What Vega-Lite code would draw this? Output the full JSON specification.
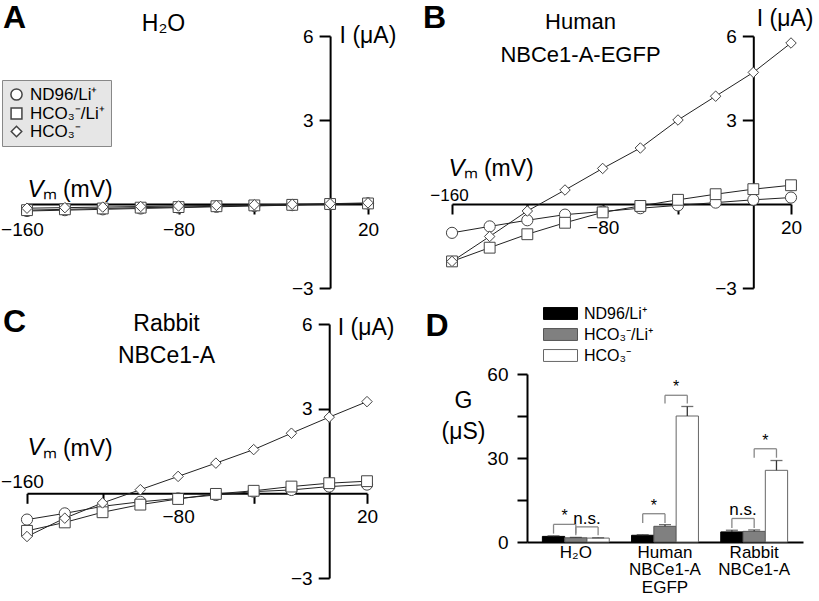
{
  "$schema": "https://vega.github.io/schema/vega-lite/v6.json",
  "padding": {"left": 0, "top": 1, "right": 0, "bottom": 0},
  "bounds": "flush",
  "columns": 2,
  "spacing": {"row": 36, "column": 84},
  "resolve": {"scale": {"shape": "independent", "size": "independent", "fill": "independent", "stroke": "independent"}, "legend": {"shape": "independent", "size": "independent", "fill": "independent", "stroke": "independent"}},
  "datasets": {
    "iv": [
      {"panel":"A","series":"ND96/Li⁺","V":-160,"I":-0.25},{"panel":"A","series":"ND96/Li⁺","V":-140,"I":-0.22},{"panel":"A","series":"ND96/Li⁺","V":-120,"I":-0.19},{"panel":"A","series":"ND96/Li⁺","V":-100,"I":-0.16},{"panel":"A","series":"ND96/Li⁺","V":-80,"I":-0.13},{"panel":"A","series":"ND96/Li⁺","V":-60,"I":-0.10},{"panel":"A","series":"ND96/Li⁺","V":-40,"I":-0.07},{"panel":"A","series":"ND96/Li⁺","V":-20,"I":-0.04},{"panel":"A","series":"ND96/Li⁺","V":0,"I":-0.01},{"panel":"A","series":"ND96/Li⁺","V":20,"I":0.02},
      {"panel":"A","series":"HCO₃⁻/Li⁺","V":-160,"I":-0.22},{"panel":"A","series":"HCO₃⁻/Li⁺","V":-140,"I":-0.19},{"panel":"A","series":"HCO₃⁻/Li⁺","V":-120,"I":-0.16},{"panel":"A","series":"HCO₃⁻/Li⁺","V":-100,"I":-0.13},{"panel":"A","series":"HCO₃⁻/Li⁺","V":-80,"I":-0.11},{"panel":"A","series":"HCO₃⁻/Li⁺","V":-60,"I":-0.08},{"panel":"A","series":"HCO₃⁻/Li⁺","V":-40,"I":-0.05},{"panel":"A","series":"HCO₃⁻/Li⁺","V":-20,"I":-0.03},{"panel":"A","series":"HCO₃⁻/Li⁺","V":0,"I":0.0},{"panel":"A","series":"HCO₃⁻/Li⁺","V":20,"I":0.02},
      {"panel":"A","series":"HCO₃⁻","V":-160,"I":-0.15},{"panel":"A","series":"HCO₃⁻","V":-140,"I":-0.13},{"panel":"A","series":"HCO₃⁻","V":-120,"I":-0.11},{"panel":"A","series":"HCO₃⁻","V":-100,"I":-0.09},{"panel":"A","series":"HCO₃⁻","V":-80,"I":-0.07},{"panel":"A","series":"HCO₃⁻","V":-60,"I":-0.05},{"panel":"A","series":"HCO₃⁻","V":-40,"I":-0.03},{"panel":"A","series":"HCO₃⁻","V":-20,"I":-0.01},{"panel":"A","series":"HCO₃⁻","V":0,"I":0.01},{"panel":"A","series":"HCO₃⁻","V":20,"I":0.04},
      {"panel":"B","series":"ND96/Li⁺","V":-160,"I":-1.03},{"panel":"B","series":"ND96/Li⁺","V":-140,"I":-0.80},{"panel":"B","series":"ND96/Li⁺","V":-120,"I":-0.58},{"panel":"B","series":"ND96/Li⁺","V":-100,"I":-0.38},{"panel":"B","series":"ND96/Li⁺","V":-80,"I":-0.27},{"panel":"B","series":"ND96/Li⁺","V":-60,"I":-0.15},{"panel":"B","series":"ND96/Li⁺","V":-40,"I":-0.05},{"panel":"B","series":"ND96/Li⁺","V":-20,"I":0.05},{"panel":"B","series":"ND96/Li⁺","V":0,"I":0.15},{"panel":"B","series":"ND96/Li⁺","V":20,"I":0.23},
      {"panel":"B","series":"HCO₃⁻/Li⁺","V":-160,"I":-2.05},{"panel":"B","series":"HCO₃⁻/Li⁺","V":-140,"I":-1.56},{"panel":"B","series":"HCO₃⁻/Li⁺","V":-120,"I":-1.08},{"panel":"B","series":"HCO₃⁻/Li⁺","V":-100,"I":-0.67},{"panel":"B","series":"HCO₃⁻/Li⁺","V":-80,"I":-0.30},{"panel":"B","series":"HCO₃⁻/Li⁺","V":-60,"I":-0.07},{"panel":"B","series":"HCO₃⁻/Li⁺","V":-40,"I":0.15},{"panel":"B","series":"HCO₃⁻/Li⁺","V":-20,"I":0.35},{"panel":"B","series":"HCO₃⁻/Li⁺","V":0,"I":0.53},{"panel":"B","series":"HCO₃⁻/Li⁺","V":20,"I":0.67},
      {"panel":"B","series":"HCO₃⁻","V":-160,"I":-2.05},{"panel":"B","series":"HCO₃⁻","V":-140,"I":-1.16},{"panel":"B","series":"HCO₃⁻","V":-120,"I":-0.25},{"panel":"B","series":"HCO₃⁻","V":-100,"I":0.50},{"panel":"B","series":"HCO₃⁻","V":-80,"I":1.27},{"panel":"B","series":"HCO₃⁻","V":-60,"I":2.00},{"panel":"B","series":"HCO₃⁻","V":-40,"I":3.00},{"panel":"B","series":"HCO₃⁻","V":-20,"I":3.85},{"panel":"B","series":"HCO₃⁻","V":0,"I":4.70},{"panel":"B","series":"HCO₃⁻","V":20,"I":5.75},
      {"panel":"C","series":"ND96/Li⁺","V":-160,"I":-0.93},{"panel":"C","series":"ND96/Li⁺","V":-140,"I":-0.71},{"panel":"C","series":"ND96/Li⁺","V":-120,"I":-0.46},{"panel":"C","series":"ND96/Li⁺","V":-100,"I":-0.30},{"panel":"C","series":"ND96/Li⁺","V":-80,"I":-0.18},{"panel":"C","series":"ND96/Li⁺","V":-60,"I":-0.06},{"panel":"C","series":"ND96/Li⁺","V":-40,"I":0.06},{"panel":"C","series":"ND96/Li⁺","V":-20,"I":0.12},{"panel":"C","series":"ND96/Li⁺","V":0,"I":0.24},{"panel":"C","series":"ND96/Li⁺","V":20,"I":0.31},
      {"panel":"C","series":"HCO₃⁻/Li⁺","V":-160,"I":-1.33},{"panel":"C","series":"HCO₃⁻/Li⁺","V":-140,"I":-1.03},{"panel":"C","series":"HCO₃⁻/Li⁺","V":-120,"I":-0.67},{"panel":"C","series":"HCO₃⁻/Li⁺","V":-100,"I":-0.40},{"panel":"C","series":"HCO₃⁻/Li⁺","V":-80,"I":-0.20},{"panel":"C","series":"HCO₃⁻/Li⁺","V":-60,"I":-0.02},{"panel":"C","series":"HCO₃⁻/Li⁺","V":-40,"I":0.09},{"panel":"C","series":"HCO₃⁻/Li⁺","V":-20,"I":0.24},{"panel":"C","series":"HCO₃⁻/Li⁺","V":0,"I":0.36},{"panel":"C","series":"HCO₃⁻/Li⁺","V":20,"I":0.43},
      {"panel":"C","series":"HCO₃⁻","V":-160,"I":-1.53},{"panel":"C","series":"HCO₃⁻","V":-140,"I":-0.88},{"panel":"C","series":"HCO₃⁻","V":-120,"I":-0.34},{"panel":"C","series":"HCO₃⁻","V":-100,"I":0.13},{"panel":"C","series":"HCO₃⁻","V":-80,"I":0.60},{"panel":"C","series":"HCO₃⁻","V":-60,"I":1.07},{"panel":"C","series":"HCO₃⁻","V":-40,"I":1.55},{"panel":"C","series":"HCO₃⁻","V":-20,"I":2.13},{"panel":"C","series":"HCO₃⁻","V":0,"I":2.70},{"panel":"C","series":"HCO₃⁻","V":20,"I":3.25}
    ],
    "bars": [
      {"slot":"H2O-1","cond":"ND96/Li⁺","G":2.0,"hi":2.2},
      {"slot":"H2O-2","cond":"HCO₃⁻/Li⁺","G":1.5,"hi":1.65},
      {"slot":"H2O-3","cond":"HCO₃⁻","G":1.4,"hi":1.5},
      {"slot":"Human-1","cond":"ND96/Li⁺","G":2.4,"hi":2.6},
      {"slot":"Human-2","cond":"HCO₃⁻/Li⁺","G":5.6,"hi":6.2},
      {"slot":"Human-3","cond":"HCO₃⁻","G":45.0,"hi":48.4},
      {"slot":"Rabbit-1","cond":"ND96/Li⁺","G":3.6,"hi":4.2},
      {"slot":"Rabbit-2","cond":"HCO₃⁻/Li⁺","G":3.8,"hi":4.3},
      {"slot":"Rabbit-3","cond":"HCO₃⁻","G":25.6,"hi":29.1}
    ],
    "brackets": [
      {"from":"H2O-1","to":"H2O-2","top":6.3,"bottom":3.0,"label":"*"},
      {"from":"H2O-2","to":"H2O-3","top":5.4,"bottom":2.4,"label":"n.s."},
      {"from":"Human-1","to":"Human-2","top":10.1,"bottom":6.8,"label":"*"},
      {"from":"Human-2","to":"Human-3","top":52.4,"bottom":49.5,"label":"*"},
      {"from":"Rabbit-1","to":"Rabbit-2","top":8.4,"bottom":5.0,"label":"n.s."},
      {"from":"Rabbit-2","to":"Rabbit-3","top":33.3,"bottom":30.1,"label":"*"}
    ]
  },
  "concat": [
    {
      "width": 341, "height": 252,
      "data": {"name": "iv"},
      "layer": [
        {
          "transform": [{"filter": "datum.panel == 'A'"}],
          "mark": {"type": "line", "color": "#222", "strokeWidth": 1},
          "encoding": {
            "x": {"field": "V", "type": "quantitative", "scale": {"domain": [-160, 20], "nice": false, "zero": false},
              "axis": {"orient": "bottom", "offset": -84, "values": [-160, -120, -80, -40, 20], "labelFlush": false,
                "labelExpr": "datum.value == -160 ? '−160' : datum.value == -80 ? '−80' : datum.value == 20 ? '20' : ''",
                "labelOffset": {"condition": {"test": "datum.value == -160", "value": -5}, "value": 0},
                "tickSize": 10, "labelPadding": 6,
                "title": "V", "titleFontStyle": "italic", "titleAngle": 0, "titleAlign": "left", "titleBaseline": "alphabetic", "titleX": 0, "titleY": -8, "titleFontSize": 24}},
            "y": {"field": "I", "type": "quantitative", "scale": {"domain": [-3, 6], "nice": false, "zero": false},
              "axis": {"orient": "left", "offset": -303.1, "values": [-3, 3, 6], "labelFlush": false,
                "labelExpr": "datum.value < 0 ? '−' + abs(datum.value) : datum.label",
                "tickSize": 11, "labelPadding": 6,
                "title": "I (μA)", "titleAngle": 0, "titleAlign": "left", "titleBaseline": "alphabetic", "titleX": 9, "titleY": 6, "titleFontSize": 23}},
            "detail": {"field": "series"}
          }
        },
        {
          "transform": [{"filter": "datum.panel == 'A'"}],
          "mark": {"type": "point", "filled": true, "fill": "white", "stroke": "#444", "strokeWidth": 1, "opacity": 1},
          "encoding": {
            "x": {"field": "V", "type": "quantitative",
              "axis": {"orient": "top", "domain": false, "ticks": false, "labels": false, "title": "ₘ (mV)", "titleAngle": 0, "titleAlign": "left", "titleBaseline": "alphabetic", "titleX": 15, "titleY": 160, "titleFontSize": 23}},
            "y": {"field": "I", "type": "quantitative",
              "axis": {"orient": "right", "domain": false, "ticks": false, "labels": false, "title": "H₂O", "titleAngle": 0, "titleAlign": "center", "titleBaseline": "alphabetic", "titleX": -205, "titleY": -6, "titleFontSize": 23}},
            "shape": {"field": "series", "type": "nominal",
              "scale": {"domain": ["ND96/Li⁺", "HCO₃⁻/Li⁺", "HCO₃⁻"], "range": ["circle", "square", "diamond"]},
              "legend": {"orient": "none", "legendX": -25, "legendY": 44, "title": null, "fillColor": "#e6e6e6", "strokeColor": "#888", "padding": 6, "labelFontSize": 17, "labelOffset": 5, "rowPadding": 0,
                "encode": {"symbols": {"update": {"fill": {"value": "white"}, "stroke": {"value": "#444"}, "strokeWidth": {"value": 1}, "opacity": {"value": 1}}}}}},
            "size": {"field": "series", "type": "ordinal",
              "scale": {"domain": ["ND96/Li⁺", "HCO₃⁻/Li⁺", "HCO₃⁻"], "range": [125, 110, 190]},
              "legend": {"orient": "none", "legendX": -25, "legendY": 44, "title": null, "fillColor": "#e6e6e6", "strokeColor": "#888", "padding": 6, "labelFontSize": 17, "labelOffset": 5, "rowPadding": 0,
                "encode": {"symbols": {"update": {"fill": {"value": "white"}, "stroke": {"value": "#444"}, "strokeWidth": {"value": 1}, "opacity": {"value": 1}}}}}}
          }
        },
        {
          "data": {"values": [{"letter": "A"}]},
          "mark": {"type": "text", "align": "left", "baseline": "alphabetic", "fontSize": 32, "fontWeight": "bold"},
          "encoding": {
            "x": {"datum": -172.7, "type": "quantitative", "scale": {"domain": [-160, 20], "nice": false, "zero": false}, "axis": null},
            "y": {"datum": 6.29, "type": "quantitative", "scale": {"domain": [-3, 6], "nice": false, "zero": false}, "axis": null},
            "text": {"field": "letter"}
          }
        }
      ],
      "resolve": {"axis": {"x": "independent", "y": "independent"}}
    },
    {
      "width": 339, "height": 252,
      "data": {"name": "iv"},
      "layer": [
        {
          "transform": [{"filter": "datum.panel == 'B'"}],
          "mark": {"type": "line", "color": "#222", "strokeWidth": 1},
          "encoding": {
            "x": {"field": "V", "type": "quantitative", "scale": {"domain": [-160, 20], "nice": false, "zero": false},
              "axis": {"orient": "bottom", "offset": -84, "values": [-160, -120, -80, -40, 20], "labelFlush": false,
                "labelExpr": "datum.value == -160 ? '−160' : datum.value == -80 ? '−80' : datum.value == 20 ? '20' : ''",
                "labelOffset": {"condition": {"test": "datum.value == -160", "value": -3}, "value": 0},
                "labelPadding": {"condition": {"test": "datum.value == -160", "value": -27}, "value": 4},
                "labelFontSize": {"condition": {"test": "datum.value == -160", "value": 17}, "value": 19},
                "tickSize": 10,
                "title": "V", "titleFontStyle": "italic", "titleAngle": 0, "titleAlign": "left", "titleBaseline": "alphabetic", "titleX": -4, "titleY": -29, "titleFontSize": 24}},
            "y": {"field": "I", "type": "quantitative", "scale": {"domain": [-3, 6], "nice": false, "zero": false},
              "axis": {"orient": "left", "offset": -301.3, "values": [-3, 3, 6], "labelFlush": false,
                "labelExpr": "datum.value < 0 ? '−' + abs(datum.value) : datum.label",
                "tickSize": 11, "labelPadding": 6,
                "title": "I (μA)", "titleAngle": 0, "titleAlign": "left", "titleBaseline": "alphabetic", "titleX": 3, "titleY": -11, "titleFontSize": 23}},
            "detail": {"field": "series"}
          }
        },
        {
          "transform": [{"filter": "datum.panel == 'B'"}],
          "mark": {"type": "point", "filled": true, "fill": "white", "stroke": "#444", "strokeWidth": 1, "opacity": 1},
          "encoding": {
            "x": {"field": "V", "type": "quantitative",
              "axis": {"orient": "top", "domain": false, "ticks": false, "labels": false, "title": "ₘ (mV)", "titleAngle": 0, "titleAlign": "left", "titleBaseline": "alphabetic", "titleX": 11, "titleY": 139, "titleFontSize": 23}},
            "y": {"field": "I", "type": "quantitative",
              "axis": {"orient": "right", "domain": false, "ticks": false, "labels": false, "title": ["Human", "NBCe1-A-EGFP"], "titleAngle": 0, "titleAlign": "center", "titleBaseline": "alphabetic", "titleX": -211, "titleY": -8, "titleFontSize": 22, "titleLineHeight": 33}},
            "shape": {"field": "series", "type": "nominal",
              "scale": {"domain": ["ND96/Li⁺", "HCO₃⁻/Li⁺", "HCO₃⁻"], "range": ["circle", "square", "diamond"]}, "legend": null},
            "size": {"field": "series", "type": "ordinal",
              "scale": {"domain": ["ND96/Li⁺", "HCO₃⁻/Li⁺", "HCO₃⁻"], "range": [125, 110, 190]}, "legend": null}
          }
        },
        {
          "data": {"values": [{"letter": "B"}]},
          "mark": {"type": "text", "align": "left", "baseline": "alphabetic", "fontSize": 32, "fontWeight": "bold"},
          "encoding": {
            "x": {"datum": -175.4, "type": "quantitative", "scale": {"domain": [-160, 20], "nice": false, "zero": false}, "axis": null},
            "y": {"datum": 6.29, "type": "quantitative", "scale": {"domain": [-3, 6], "nice": false, "zero": false}, "axis": null},
            "text": {"field": "letter"}
          }
        }
      ],
      "resolve": {"axis": {"x": "independent", "y": "independent"}}
    },
    {
      "width": 340, "height": 254,
      "data": {"name": "iv"},
      "layer": [
        {
          "transform": [{"filter": "datum.panel == 'C'"}],
          "mark": {"type": "line", "color": "#222", "strokeWidth": 1},
          "encoding": {
            "x": {"field": "V", "type": "quantitative", "scale": {"domain": [-160, 20], "nice": false, "zero": false},
              "axis": {"orient": "bottom", "offset": -84.7, "values": [-160, -120, -80, -40, 20], "labelFlush": false,
                "labelExpr": "datum.value == -160 ? '−160' : datum.value == -80 ? '−80' : datum.value == 20 ? '20' : ''",
                "labelOffset": {"condition": {"test": "datum.value == -160", "value": -5}, "value": 0},
                "labelPadding": {"condition": {"test": "datum.value == -160", "value": -31}, "value": 4},
                "tickSize": 10,
                "title": "V", "titleFontStyle": "italic", "titleAngle": 0, "titleAlign": "left", "titleBaseline": "alphabetic", "titleX": 0, "titleY": -39, "titleFontSize": 24}},
            "y": {"field": "I", "type": "quantitative", "scale": {"domain": [-3, 6], "nice": false, "zero": false},
              "axis": {"orient": "left", "offset": -302.2, "values": [-3, 3, 6], "labelFlush": false,
                "labelExpr": "datum.value < 0 ? '−' + abs(datum.value) : datum.label",
                "tickSize": 11, "labelPadding": 6,
                "title": "I (μA)", "titleAngle": 0, "titleAlign": "left", "titleBaseline": "alphabetic", "titleX": 8, "titleY": 10, "titleFontSize": 23}},
            "detail": {"field": "series"}
          }
        },
        {
          "transform": [{"filter": "datum.panel == 'C'"}],
          "mark": {"type": "point", "filled": true, "fill": "white", "stroke": "#444", "strokeWidth": 1, "opacity": 1},
          "encoding": {
            "x": {"field": "V", "type": "quantitative",
              "axis": {"orient": "top", "domain": false, "ticks": false, "labels": false, "title": "ₘ (mV)", "titleAngle": 0, "titleAlign": "left", "titleBaseline": "alphabetic", "titleX": 15, "titleY": 131, "titleFontSize": 23}},
            "y": {"field": "I", "type": "quantitative",
              "axis": {"orient": "right", "domain": false, "ticks": false, "labels": false, "title": ["Rabbit", "NBCe1-A"], "titleAngle": 0, "titleAlign": "center", "titleBaseline": "alphabetic", "titleX": -201, "titleY": 6, "titleFontSize": 23, "titleLineHeight": 32}},
            "shape": {"field": "series", "type": "nominal",
              "scale": {"domain": ["ND96/Li⁺", "HCO₃⁻/Li⁺", "HCO₃⁻"], "range": ["circle", "square", "diamond"]}, "legend": null},
            "size": {"field": "series", "type": "ordinal",
              "scale": {"domain": ["ND96/Li⁺", "HCO₃⁻/Li⁺", "HCO₃⁻"], "range": [125, 110, 190]}, "legend": null}
          }
        },
        {
          "data": {"values": [{"letter": "C"}]},
          "mark": {"type": "text", "align": "left", "baseline": "alphabetic", "fontSize": 32, "fontWeight": "bold"},
          "encoding": {
            "x": {"datum": -172.7, "type": "quantitative", "scale": {"domain": [-160, 20], "nice": false, "zero": false}, "axis": null},
            "y": {"datum": 5.72, "type": "quantitative", "scale": {"domain": [-3, 6], "nice": false, "zero": false}, "axis": null},
            "text": {"field": "letter"}
          }
        }
      ],
      "resolve": {"axis": {"x": "independent", "y": "independent"}}
    },
    {
      "width": 351, "height": 218,
      "layer": [
        {
          "data": {"name": "bars"},
          "mark": {"type": "bar", "strokeWidth": 1},
          "encoding": {
            "x": {"field": "slot", "type": "nominal", "sort": null,
              "scale": {"type": "band", "domain": ["H2O-1", "H2O-2", "H2O-3", "g1", "Human-1", "Human-2", "Human-3", "g2", "Rabbit-1", "Rabbit-2", "Rabbit-3"], "range": [75, 351], "paddingInner": 0, "paddingOuter": 0.69},
              "axis": {"ticks": false, "labelAngle": 0, "labelPadding": 2, "labelBaseline": "top", "labelFontSize": 17, "labelLineHeight": 17.5,
                "labelExpr": "datum.value == 'H2O-2' ? 'H₂O' : datum.value == 'Human-2' ? ['Human', 'NBCe1-A', 'EGFP'] : datum.value == 'Rabbit-2' ? ['Rabbit', 'NBCe1-A'] : ''",
                "title": "D", "titleFontSize": 32, "titleFontWeight": "bold", "titleAngle": 0, "titleAlign": "left", "titleBaseline": "alphabetic", "titleX": -27, "titleY": -207}},
            "y": {"field": "G", "type": "quantitative",
              "scale": {"domain": [0, 60], "nice": false, "zero": false, "range": [218, 50]},
              "axis": {"offset": -75, "values": [0, 15, 30, 45, 60], "labelFlush": false, "labelExpr": "datum.value % 30 == 0 ? datum.label : ''", "tickSize": 10, "labelPadding": 9, "labelFontSize": 19,
                "title": ["G", "(μS)"], "titleAngle": 0, "titleAlign": "center", "titleBaseline": "alphabetic", "titleX": -64, "titleY": 83, "titleFontSize": 23, "titleLineHeight": 31}},
            "fill": {"field": "cond", "type": "nominal",
              "scale": {"domain": ["ND96/Li⁺", "HCO₃⁻/Li⁺", "HCO₃⁻"], "range": ["#000000", "#808080", "#ffffff"]},
              "legend": {"orient": "none", "legendX": 99.5, "legendY": -19.5, "title": null, "symbolType": "M-2,-0.7H2V0.7H-2Z", "symbolSize": 289, "labelFontSize": 16, "labelOffset": 14.5, "rowPadding": 4, "padding": 0,
                "encode": {"symbols": {"update": {"stroke": {"value": "#333"}, "strokeWidth": {"value": 1}, "opacity": {"value": 1}}}}}},
            "stroke": {"field": "cond", "type": "nominal",
              "scale": {"domain": ["ND96/Li⁺", "HCO₃⁻/Li⁺", "HCO₃⁻"], "range": ["#000000", "#555555", "#666666"]},
              "legend": null}
          }
        },
        {
          "data": {"name": "bars"},
          "mark": {"type": "rule", "color": "#333", "strokeWidth": 1.3},
          "encoding": {
            "x": {"field": "slot", "type": "nominal"},
            "y": {"field": "G", "type": "quantitative"},
            "y2": {"field": "hi"}
          }
        },
        {
          "data": {"name": "bars"},
          "mark": {"type": "tick", "color": "#333", "thickness": 1.3, "size": 12},
          "encoding": {
            "x": {"field": "slot", "type": "nominal"},
            "y": {"field": "hi", "type": "quantitative"}
          }
        },
        {
          "data": {"name": "brackets"},
          "mark": {"type": "rule", "color": "#888", "strokeWidth": 1.3},
          "encoding": {
            "x": {"field": "from", "type": "nominal"},
            "x2": {"field": "to"},
            "y": {"field": "top", "type": "quantitative"}
          }
        },
        {
          "data": {"name": "brackets"},
          "mark": {"type": "rule", "color": "#888", "strokeWidth": 1.3},
          "encoding": {
            "x": {"field": "from", "type": "nominal"},
            "y": {"field": "top", "type": "quantitative"},
            "y2": {"field": "bottom"}
          }
        },
        {
          "data": {"name": "brackets"},
          "mark": {"type": "rule", "color": "#888", "strokeWidth": 1.3},
          "encoding": {
            "x": {"field": "to", "type": "nominal"},
            "y": {"field": "top", "type": "quantitative"},
            "y2": {"field": "bottom"}
          }
        },
        {
          "data": {"name": "brackets"},
          "mark": {"type": "text", "baseline": "alphabetic", "align": "center", "dy": -3},
          "encoding": {
            "x": {"field": "from", "type": "nominal", "bandPosition": 1},
            "y": {"field": "top", "type": "quantitative"},
            "text": {"field": "label"},
            "size": {"condition": {"test": "datum.label == '*'", "value": 16}, "value": 17}
          }
        }
      ]
    }
  ],
  "config": {
    "view": {"stroke": null},
    "font": "Liberation Sans",
    "axis": {"grid": false, "domainColor": "black", "domainWidth": 2, "tickColor": "black", "tickWidth": 2,
      "labelFont": "Liberation Sans", "labelFontSize": 19, "labelColor": "black",
      "titleFont": "Liberation Sans", "titleColor": "black", "titleFontWeight": "normal", "titlePadding": 0},
    "legend": {"labelFont": "Liberation Sans", "labelColor": "black"},
    "title": {"color": "black", "font": "Liberation Sans"},
    "text": {"color": "black", "font": "Liberation Sans"}
  }
}
